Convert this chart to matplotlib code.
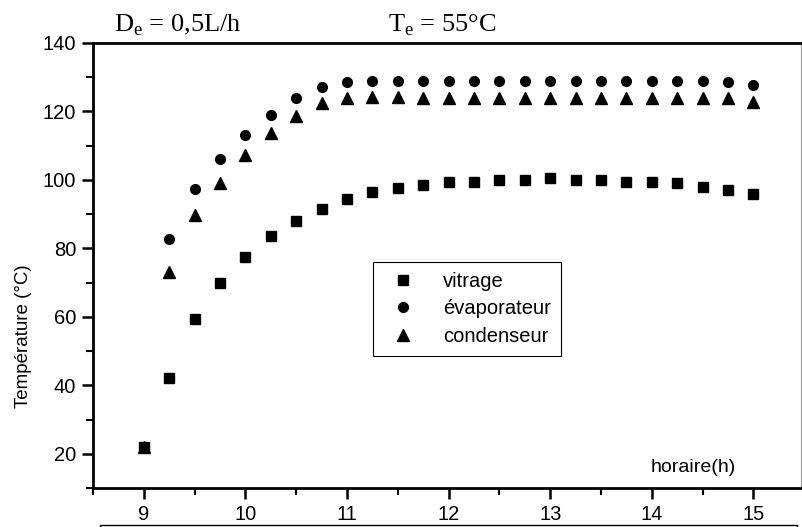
import matplotlib
matplotlib.use("Agg")
from matplotlib import pyplot as plt
from matplotlib.patches import Rectangle
from matplotlib.ticker import MultipleLocator

# heures de mesure
heures = [9, 9.25, 9.5, 9.75, 10, 10.25, 10.5, 10.75, 11, 11.25, 11.5, 11.75,
          12, 12.25, 12.5, 12.75, 13, 13.25, 13.5, 13.75, 14, 14.25, 14.5,
          14.75, 15]

vitrage = [22, 42, 59.5, 70, 77.5, 83.5, 88, 91.5, 94.5, 96.5, 97.5, 98.5,
           99.5, 99.5, 100, 100, 100.5, 100, 100, 99.5, 99.5, 99, 98, 97, 96]
evaporateur = [22, 82.8, 97.3, 106, 113.2, 119, 124, 127, 128.7, 129, 129,
               128.8, 128.8, 128.8, 128.8, 128.8, 128.8, 128.8, 128.8, 128.8,
               128.8, 128.8, 128.8, 128.5, 127.6]
condenseur = [22, 73.2, 89.7, 99.2, 107.2, 113.6, 118.7, 122.5, 124, 124.3,
              124.2, 124, 124, 124, 124, 124, 124, 124, 124, 124, 124, 124,
              124, 123.8, 122.8]

plt.rcParams["font.family"] = ["Liberation Sans", "DejaVu Sans"]
plt.rcParams["mathtext.fontset"] = "custom"
plt.rcParams["mathtext.rm"] = "Liberation Serif"

fig = plt.figure(figsize=(8.03, 5.27), dpi=100)
ax = fig.add_axes([0.1158, 0.074, 0.882, 0.8446])

ax.plot(heures, vitrage, "s", color="k", markersize=6.5, label="vitrage")
ax.plot(heures, evaporateur, "o", color="k", markersize=7, label="évaporateur")
ax.plot(heures, condenseur, "^", color="k", markersize=8.5, label="condenseur")

ax.set_xlim(8.5, 15.47)
ax.set_ylim(10, 140)
ax.xaxis.set_major_locator(MultipleLocator(1))
ax.xaxis.set_minor_locator(MultipleLocator(0.5))
ax.yaxis.set_major_locator(MultipleLocator(20))
ax.yaxis.set_minor_locator(MultipleLocator(10))
ax.set_yticks(range(20, 141, 20))

ax.tick_params(which="major", direction="out", length=8, width=1.8,
               labelsize=14.5, pad=4)
ax.tick_params(which="minor", direction="out", length=5, width=1.5)
ax.tick_params(top=False, right=False, which="both")

for s in ["left", "bottom", "top"]:
    ax.spines[s].set_linewidth(2)
ax.spines["right"].set_linewidth(0.8)
ax.spines["right"].set_color("#999999")

ax.set_ylabel("Température (°C)", fontsize=13.5, labelpad=4)
ax.yaxis.set_label_coords(-0.086, 0.342)
ax.text(0.847, 0.045, "horaire(h)", transform=ax.transAxes, fontsize=14,
        ha="center", va="center")

leg = ax.legend(loc="upper left", bbox_to_anchor=(0.395, 0.508), fontsize=14.5,
                frameon=True, fancybox=False, edgecolor="k", framealpha=1,
                handletextpad=1.0, borderpad=0.5, labelspacing=0.42,
                handlelength=2.0, borderaxespad=0)
leg.get_frame().set_linewidth(0.8)

fig.text(114 / 803, 0.941, r"D$_\mathregular{e}$ = 0,5L/h", fontsize=19,
         family="Liberation Serif", ha="left", va="baseline")
fig.text(388 / 803, 0.941, r"T$_\mathregular{e}$ = 55°C", fontsize=19,
         family="Liberation Serif", ha="left", va="baseline")

# cadre sous le graphique
fig.add_artist(Rectangle((100 / 803, -0.05), 697 / 803, 0.05 + 2 / 527,
                         transform=fig.transFigure, fill=False,
                         edgecolor="k", linewidth=1, clip_on=False))

fig.savefig("out.png", dpi=100)
